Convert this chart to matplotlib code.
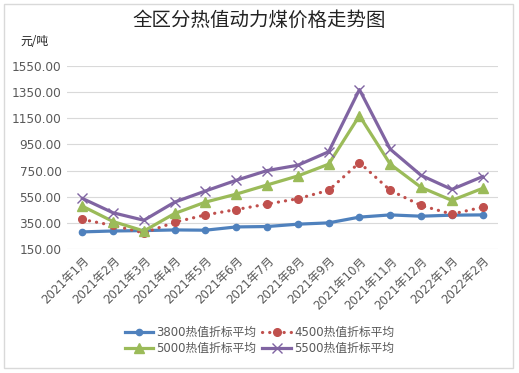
import matplotlib
matplotlib.use("Agg")
import matplotlib.pyplot as plt
from matplotlib.patches import Rectangle

plt.rcParams['font.family'] = ['DejaVu Sans', 'Noto Sans CJK SC']

months = ["2021年1月", "2021年2月", "2021年3月", "2021年4月", "2021年5月", "2021年6月",
          "2021年7月", "2021年8月", "2021年9月", "2021年10月", "2021年11月", "2021年12月",
          "2022年1月", "2022年2月"]
p3800 = [281, 288, 291, 296, 294, 319, 322, 340, 350, 394, 411, 401, 409, 411]
p4500 = [376, 330, 273, 355, 411, 452, 494, 535, 599, 811, 599, 483, 417, 470]
p5000 = [478, 360, 288, 422, 509, 570, 640, 709, 799, 1170, 799, 622, 522, 614]
p5500 = [537, 427, 370, 509, 594, 676, 750, 791, 894, 1370, 914, 714, 606, 704]
yticks = [150, 350, 550, 750, 950, 1150, 1350, 1550]

gray = "#595959"
fig = plt.figure(figsize=(5.19, 3.73), dpi=100)
ax = fig.add_axes([0.129, 0.3324, 0.8305, 0.4906])

x = list(range(len(months)))
l1, = ax.plot(x, p3800, color="#4F81BD", lw=2.3, marker="o", ms=4.5, label="3800热值折标平均", zorder=3)
l2, = ax.plot(x, p4500, color="#C0504D", lw=2.3, ls=(0, (0.05, 2.2)), dash_capstyle="round",
              marker="o", ms=5.5, label="4500热值折标平均", zorder=3)
l3, = ax.plot(x, p5000, color="#9BBB59", lw=2.3, marker="^", ms=7, label="5000热值折标平均", zorder=3)
l4, = ax.plot(x, p5500, color="#8064A2", lw=2.3, marker="x", ms=7, mew=1.0, label="5500热值折标平均", zorder=4)

ax.set_xlim(-0.5, len(months) - 0.5)
ax.set_ylim(150, 1550)
ax.set_yticks(yticks)
ax.set_yticklabels([f"{v:.2f}" for v in yticks], fontsize=8.7, color=gray)
ax.set_xticks(x)
ax.set_xticklabels(months, rotation=45, ha="right", rotation_mode="anchor", fontsize=8.5, color=gray)
ax.tick_params(length=0, pad=4)
ax.grid(axis="y", color="#D9D9D9", lw=0.8)
for s in ax.spines.values():
    s.set_visible(False)

fig.text(0.5, 0.946, "全区分热值动力煤价格走势图", ha="center", va="center", fontsize=14,
         family=['Noto Sans CJK SC'], color="#222222")
fig.text(0.04, 0.89, "元/吨", ha="left", va="center", fontsize=8.5, color="#222222",
         family=['Noto Sans CJK SC'])

ax.legend([l1, l3, l2, l4], [l1.get_label(), l3.get_label(), l2.get_label(), l4.get_label()],
          loc="center", bbox_to_anchor=(0.5, 0.087), bbox_transform=fig.transFigure, ncol=2,
          frameon=False, fontsize=8.5, handlelength=2.4, columnspacing=0.5, handletextpad=0.3,
          labelspacing=0.3, labelcolor=gray)

fig.patches.append(Rectangle((0.008, 0.013), 0.98, 0.975, transform=fig.transFigure,
                             fill=False, ec="#D9D9D9", lw=1))

fig.savefig("out.png", dpi=100)
